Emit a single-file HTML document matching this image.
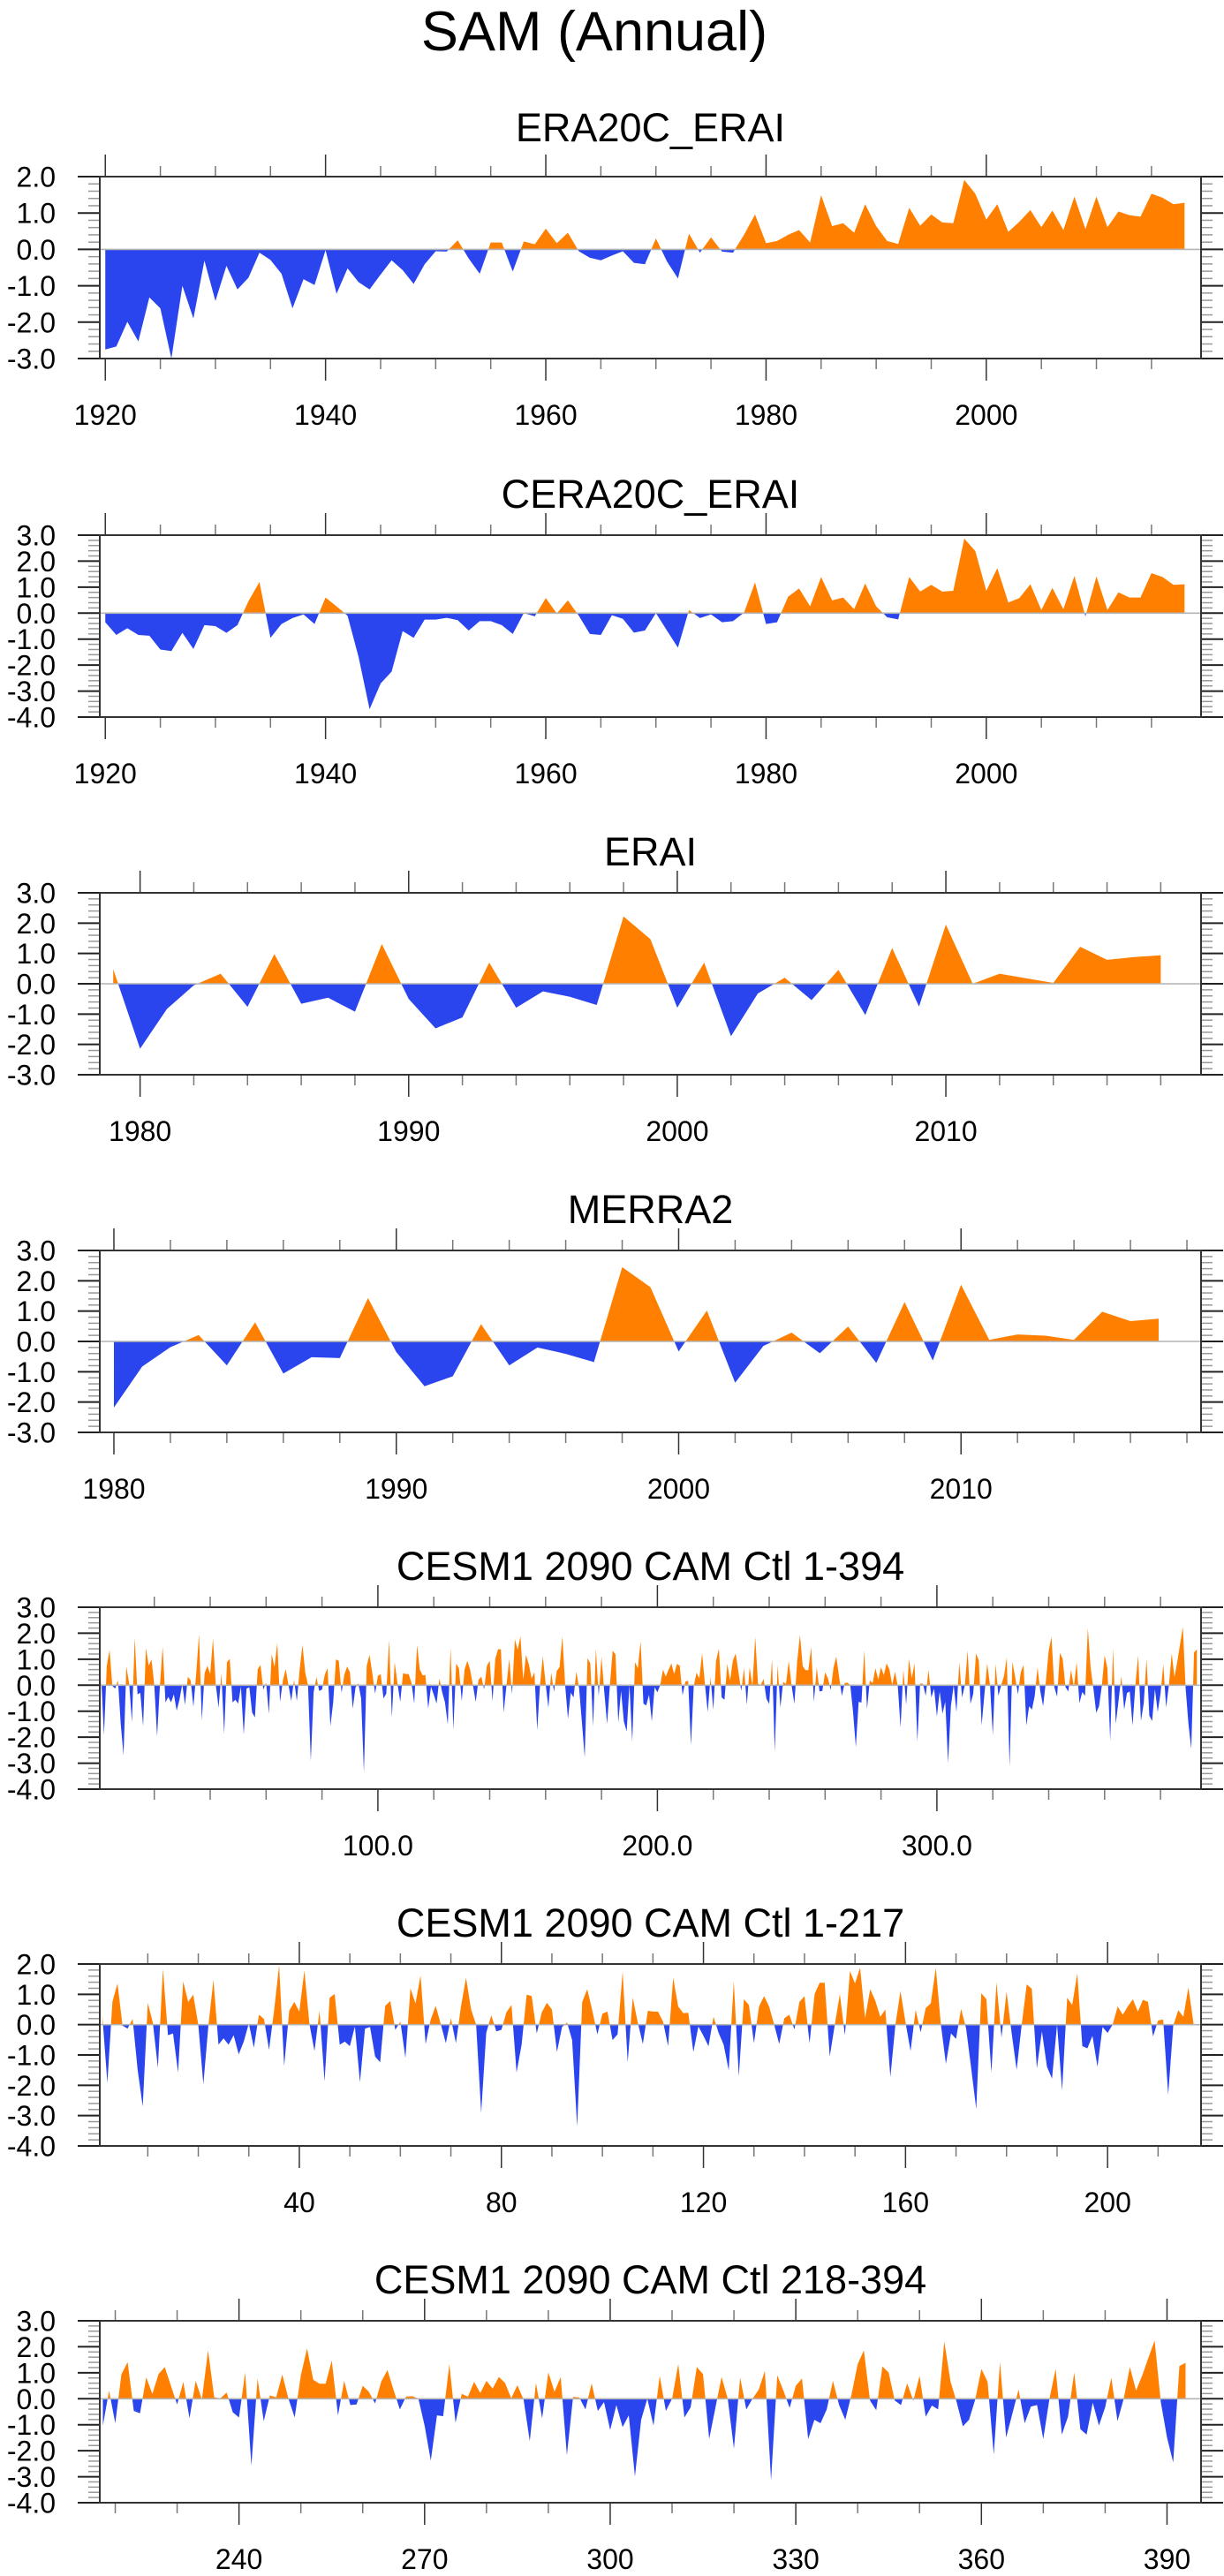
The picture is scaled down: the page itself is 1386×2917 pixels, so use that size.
<!DOCTYPE html>
<html><head><meta charset="utf-8"><title>SAM (Annual)</title>
<style>
html,body{margin:0;padding:0;background:#fff;}
svg{display:block;font-family:"Liberation Sans",Arial,sans-serif;}
</style></head>
<body>
<svg id="fig" xmlns="http://www.w3.org/2000/svg" width="1386" height="2917" viewBox="0 0 1386 2917">
<rect x="0" y="0" width="1386" height="2917" fill="#fff"/>
<text x="673" y="57" text-anchor="middle" font-size="63" fill="#000">SAM (Annual)</text>
</svg>
<script>
// ---- data ----
const era20cStart = 1920;
const era20cVals = [-2.75,-2.67,-1.99,-2.53,-1.32,-1.62,-3.0,-1.0,-1.9,-0.31,
-1.42,-0.45,-1.1,-0.78,-0.09,-0.29,-0.67,-1.62,-0.82,-0.98,
-0.02,-1.22,-0.52,-0.9,-1.1,-0.69,-0.3,-0.57,-0.95,-0.41,
-0.05,-0.06,0.25,-0.25,-0.67,0.19,0.19,-0.61,0.22,0.14,
0.57,0.17,0.46,-0.05,-0.23,-0.3,-0.17,-0.05,-0.37,-0.41,
0.3,-0.33,-0.8,0.43,-0.09,0.33,-0.06,-0.09,0.4,0.96,
0.17,0.23,0.4,0.53,0.19,1.49,0.64,0.72,0.46,1.24,
0.64,0.23,0.15,1.14,0.65,0.96,0.74,0.72,1.91,1.53,
0.82,1.24,0.48,0.76,1.08,0.61,1.07,0.53,1.45,0.56,
1.45,0.61,1.04,0.94,0.9,1.53,1.42,1.24,1.28];
const cera20cStart = 1920;
const cera20cVals = [-0.35,-0.84,-0.58,-0.84,-0.87,-1.4,-1.46,-0.76,-1.38,-0.46,
-0.5,-0.76,-0.46,0.46,1.2,-0.95,-0.42,-0.19,-0.05,-0.42,
0.6,0.26,-0.1,-1.69,-3.7,-2.71,-2.25,-0.69,-0.95,-0.25,
-0.25,-0.18,-0.27,-0.67,-0.31,-0.31,-0.46,-0.8,0.0,-0.12,
0.58,-0.01,0.49,-0.1,-0.8,-0.84,-0.08,-0.22,-0.75,-0.67,
0.0,-0.67,-1.33,0.12,-0.19,-0.05,-0.35,-0.31,0.02,1.18,
-0.42,-0.35,0.63,0.95,0.26,1.39,0.49,0.6,0.15,1.14,
0.26,-0.16,-0.24,1.39,0.83,1.09,0.83,0.86,2.87,2.39,
0.86,1.73,0.41,0.58,1.11,0.12,0.97,0.15,1.43,-0.12,
1.41,0.12,0.8,0.6,0.6,1.54,1.39,1.09,1.11];
const eraiStart = 1979;
const eraiVals = [0.48,-2.14,-0.83,-0.05,0.33,-0.76,0.98,-0.66,-0.46,-0.92,
1.31,-0.5,-1.47,-1.11,0.7,-0.79,-0.25,-0.43,-0.7,2.22,
1.47,-0.79,0.7,-1.73,-0.32,0.2,-0.54,0.46,-1.03,1.18,
-0.75,1.95,0.0,0.33,0.18,0.03,1.22,0.79,0.88,0.94];
const merra2Start = 1980;
const merra2Vals = [-2.18,-0.83,-0.19,0.21,-0.79,0.63,-1.06,-0.52,-0.55,1.43,
-0.35,-1.48,-1.15,0.57,-0.79,-0.2,-0.41,-0.68,2.45,1.79,
-0.33,1.02,-1.36,-0.15,0.29,-0.39,0.49,-0.71,1.3,-0.63,
1.87,0.05,0.23,0.19,0.05,0.98,0.67,0.75];
const cesmStart = 1;
const cesmVals = [0.3,-1.92,0.75,1.36,-0.03,-0.13,0.19,-1.5,-2.7,0.72,
0.07,-1.42,1.84,-0.35,-0.29,-1.58,1.43,0.75,0.99,0.0,
-1.97,-0.03,1.48,-0.66,-0.45,-0.66,-0.35,-0.98,-0.56,0.04,
-0.76,0.33,0.19,-0.83,0.46,1.96,-1.36,0.46,0.75,0.43,
1.79,0.02,-0.87,0.46,-1.87,0.89,1.01,-0.66,-0.56,-0.71,
-0.06,-1.9,-0.13,-0.08,-1.05,-1.24,0.62,0.78,-0.17,0.1,
-1.1,1.2,0.7,1.62,-0.64,0.17,0.62,0.02,-0.61,0.21,
-0.61,0.6,1.55,0.5,0.0,-2.91,-0.27,0.31,-0.22,-0.17,
0.41,0.65,-1.58,-0.66,0.99,0.94,-0.29,0.41,0.72,0.5,
-0.9,-0.08,0.07,-0.51,-3.36,0.75,1.17,0.46,-0.32,0.36,
0.43,-0.51,-0.32,1.75,-1.24,0.89,0.07,-0.64,0.46,0.43,
0.43,0.1,-0.71,1.55,0.6,0.38,0.39,-0.9,-0.06,-0.37,
-0.71,0.26,-0.27,-0.66,-1.51,1.43,-1.71,0.84,0.65,-0.61,
0.6,0.94,0.6,0.0,-0.64,0.21,0.33,-0.16,0.75,0.94,
-0.61,1.01,1.38,1.38,-1.05,0.0,1.01,-0.35,1.77,1.36,
1.88,0.21,1.17,0.8,0.26,0.5,-1.73,0.0,1.11,0.07,
-0.87,0.49,-0.25,0.55,0.7,1.88,0.0,-1.29,-0.29,-0.47,
0.52,-0.13,-1.44,-2.78,1.04,0.84,-1.58,1.4,-0.42,1.09,
-0.27,-1.49,0.0,1.33,1.18,-1.44,-0.22,-1.39,-1.78,0.0,
-2.17,0.89,0.65,1.69,-0.71,-0.78,-0.37,-1.39,-0.08,-0.27,
0.0,0.6,0.33,0.6,0.84,0.43,0.82,0.75,-0.39,0.14,
0.17,-2.31,-0.03,0.48,0.26,1.23,0.05,
-1.03,0.31,-0.94,0.95,1.41,-0.47,-0.56,0.82,0.19,0.95,
1.22,0.5,-0.22,0.65,-0.75,0.69,-0.03,1.86,0.05,0.02,
0.24,-0.52,-0.72,1.01,-2.57,0.78,-0.86,0.13,0.05,0.93,
0.0,-0.72,0.9,1.94,0.73,0.58,0.58,1.47,-0.64,0.69,
-0.24,-0.22,0.5,0.27,-0.18,0.67,1.1,0.33,-0.41,0.08,
0.1,0.0,-1.03,-2.38,-0.64,-0.67,1.33,-0.92,0.19,0.08,
0.65,0.22,0.69,0.39,0.84,0.61,0.02,0.52,-0.03,-1.63,
0.61,-0.75,1.01,0.27,0.84,-2.17,0.07,0.05,-0.41,0.59,
-0.47,-0.13,-1.2,-0.24,-1.09,-0.64,-2.99,-0.81,0.0,-1.03,
0.88,-0.47,0.0,1.33,-0.72,-0.33,1.22,0.95,-1.55,-0.35,
0.84,0.0,-1.92,0.82,-0.41,0.0,0.35,1.07,-3.14,0.9,
0.31,-0.35,0.5,0.78,-1.55,-0.81,-0.94,-0.41,0.69,-0.24,
-0.81,0.16,1.33,1.86,-0.07,-0.44,1.24,1.01,-0.07,-0.24,
0.59,-0.07,0.88,-0.69,-0.26,-0.41,2.2,0.67,-0.13,-1.06,
-0.81,-0.03,1.15,0.65,-2.15,1.41,-1.49,-0.58,0.35,-0.94,
-0.3,-0.24,-1.55,0.0,1.15,-1.38,-0.69,1.01,-1.17,-1.38,
-0.15,-1.03,-0.33,0.81,-0.86,0.0,1.22,0.31,0.9,1.58,
2.24,-0.13,-1.49,-2.45,1.26,1.38];

// ---- layout ----
const NS = 'http://www.w3.org/2000/svg';
const svg = document.getElementById('fig');
const PL = 113, PR = 1360, PH = 206;
const panels = [
 {key:'era20c-erai', title:'ERA20C_ERAI', top:200, titleY:160, vals:era20cVals, start:era20cStart, from:0, to:era20cVals.length, xmin:1919.5, xmax:2019.5, ymin:-3, ymax:2, major:20, majorFrom:1920, minor:5, fmt:v=>String(v)},
 {key:'cera20c-erai', title:'CERA20C_ERAI', top:606, vals:cera20cVals, start:cera20cStart, from:0, to:cera20cVals.length, xmin:1919.5, xmax:2019.5, ymin:-4, ymax:3, major:20, majorFrom:1920, minor:5, fmt:v=>String(v)},
 {key:'erai', title:'ERAI', top:1011, vals:eraiVals, start:eraiStart, from:0, to:eraiVals.length, xmin:1978.5, xmax:2019.5, ymin:-3, ymax:3, major:10, majorFrom:1980, minor:2, fmt:v=>String(v)},
 {key:'merra2', title:'MERRA2', top:1416, vals:merra2Vals, start:merra2Start, from:0, to:merra2Vals.length, xmin:1979.5, xmax:2018.5, ymin:-3, ymax:3, major:10, majorFrom:1980, minor:2, fmt:v=>String(v)},
 {key:'cesm-1-394', title:'CESM1 2090 CAM Ctl 1-394', top:1820, vals:cesmVals, start:cesmStart, from:0, to:cesmVals.length, xmin:0.5, xmax:394.5, ymin:-4, ymax:3, major:100, majorFrom:100, minor:20, fmt:v=>v.toFixed(1)},
 {key:'cesm-1-217', title:'CESM1 2090 CAM Ctl 1-217', top:2224, vals:cesmVals, start:cesmStart, from:0, to:217, xmin:0.5, xmax:218.5, ymin:-4, ymax:2, major:40, majorFrom:40, minor:10, fmt:v=>String(v)},
 {key:'cesm-218-394', title:'CESM1 2090 CAM Ctl 218-394', top:2628, vals:cesmVals, start:cesmStart, from:217, to:cesmVals.length, xmin:217.5, xmax:395.5, ymin:-4, ymax:3, major:30, majorFrom:240, minor:10, fmt:v=>String(v)}
];

function mk(tag, attrs, parent){
  const e = document.createElementNS(NS, tag);
  for (const k in attrs) e.setAttribute(k, attrs[k]);
  (parent||svg).appendChild(e);
  return e;
}

panels.forEach((p, pi) => {
  const top = p.top, bot = top + PH;
  const xs = v => PL + (v - p.xmin) / (p.xmax - p.xmin) * (PR - PL);
  const ys = v => bot - (v - p.ymin) / (p.ymax - p.ymin) * PH;
  const g = mk('g', {});
  
  

  const t = mk('text', {x:(PL+PR)/2, y:p.titleY || (top-31), 'text-anchor':'middle', 'font-size':45, fill:'#000'}, g);
  t.textContent = p.title;
  
  

  // clip paths
  const z = ys(0);
  const cpA = mk('clipPath', {id:'ca'+pi}, g); mk('rect', {x:PL, y:top, width:PR-PL, height:z-top}, cpA);
  const cpB = mk('clipPath', {id:'cb'+pi}, g); mk('rect', {x:PL, y:z, width:PR-PL, height:bot-z}, cpB);

  let d = '';
  for (let i = p.from; i < p.to; i++) {
    const xv = p.start + i;
    d += (i === p.from ? 'M' + xs(xv).toFixed(2) + ',' + z.toFixed(2) + 'L' : 'L') + xs(xv).toFixed(2) + ',' + ys(p.vals[i]).toFixed(2);
  }
  d += 'L' + xs(p.start + p.to - 1).toFixed(2) + ',' + z.toFixed(2) + 'Z';
  const pos = mk('path', {d:d, fill:'#FF8000', 'clip-path':'url(#ca'+pi+')'}, g);
  
  
  const neg = mk('path', {d:d, fill:'#2A44EE', 'clip-path':'url(#cb'+pi+')'}, g);
  
  

  const zl = mk('line', {x1:PL, x2:PR, y1:z, y2:z, stroke:'#b4b4b4', 'stroke-width':1.6}, g);
  
  

  // x ticks
  const first = Math.ceil(p.xmin / p.minor) * p.minor;
  for (let v = first; v <= p.xmax + 1e-9; v += p.minor) {
    const isMajor = Math.abs(((v - p.majorFrom) % p.major + p.major) % p.major) < 1e-6 && v >= p.majorFrom;
    const len = isMajor ? 25 : 12;
    const x = xs(v);
    mk('line', {x1:x, x2:x, y1:top, y2:top-len, stroke:isMajor?'#333':'#777', 'stroke-width':1.5}, g);
    mk('line', {x1:x, x2:x, y1:bot, y2:bot+len, stroke:isMajor?'#333':'#777', 'stroke-width':1.5}, g);
    if (isMajor) {
      const lb = mk('text', {x:x, y:bot+75, 'text-anchor':'middle', 'font-size':32, fill:'#000'}, g);
      lb.textContent = p.fmt(v);
      
      
    }
  }
  // y ticks
  for (let k = Math.round(p.ymin*5); k <= Math.round(p.ymax*5); k++) {
    const v = k / 5, y = ys(v), isMajor = (k % 5 === 0);
    const len = isMajor ? 25 : 13;
    mk('line', {x1:PL, x2:PL-len, y1:y, y2:y, stroke:isMajor?'#222':'#999', 'stroke-width':isMajor?2:1.5}, g);
    mk('line', {x1:PR, x2:PR+len, y1:y, y2:y, stroke:isMajor?'#222':'#999', 'stroke-width':isMajor?2:1.5}, g);
    if (isMajor) {
      const lb = mk('text', {x:63, y:y+11.5, 'text-anchor':'end', 'font-size':32, fill:'#000'}, g);
      lb.textContent = v.toFixed(1);
      
      
    }
  }
  const box = mk('rect', {x:PL, y:top, width:PR-PL, height:PH, fill:'none', stroke:'#333', 'stroke-width':2}, g);
  
  
});
</script>
</body></html>
